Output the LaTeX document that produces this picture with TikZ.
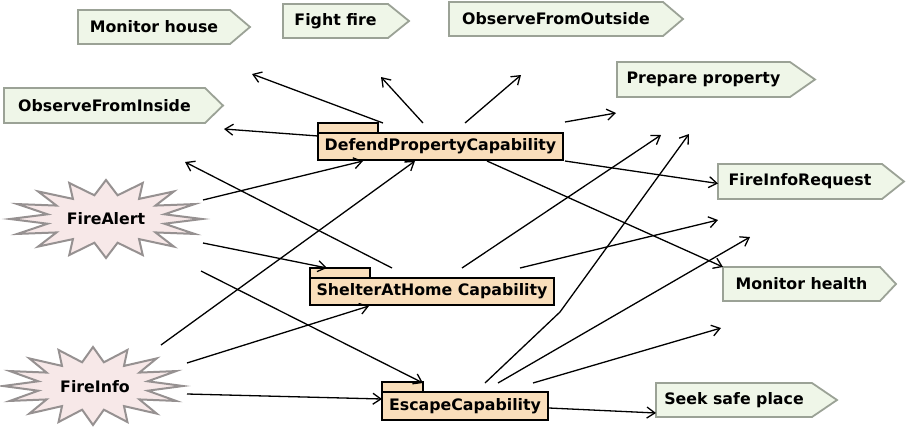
\documentclass[tikz,border=0pt]{standalone}
\usepackage{fontspec}
\setmainfont{DejaVu Sans}
\usetikzlibrary{arrows.meta}

\definecolor{sigfill}{RGB}{239,246,232}
\definecolor{sigline}{RGB}{155,162,150}
\definecolor{burstfill}{RGB}{247,232,232}
\definecolor{burstline}{RGB}{150,145,145}
\definecolor{pkgfill}{RGB}{249,222,187}

\tikzset{
  lbl/.style={font=\fontsize{15.8}{18}\selectfont\bfseries, inner sep=0pt, outer sep=0pt},
  sigbox/.style={fill=sigfill, draw=sigline, line width=1.8pt, line join=miter},
  pkg/.style={lbl, fill=pkgfill, draw=black, line width=2.8pt},
  pkgtab/.style={fill=pkgfill, draw=black, line width=2.8pt},
  burst/.style={fill=burstfill, draw=burstline, line width=2pt, line join=miter},
  dep/.style={line width=1.3pt, -{Straight Barb[length=8pt,width=11pt]}},
}

% signal: name, left, top, body right, tip, bottom, text
\newcommand\signalnode[7]{%
  \draw[sigbox] (#2,#3) -- (#4,#3) -- (#5,{(#3+#6)/2}) -- (#4,#6) -- (#2,#6) -- cycle;
  \node[lbl, minimum width={#4pt-#2pt}, minimum height={#6pt-#3pt}] (#1)
    at ({(#2+#4)/2},{(#3+#6)/2}) {#7};
}

% star burst outline: centre x, centre y, radius x, radius y
\newcommand\burstoutline[4]{%
  \draw[burst] ({#1+#3},#2)
    \foreach \k [evaluate=\k as \rr using {1-0.38*mod(\k,2)}] in {1,...,31}
      { -- ({#1+#3*\rr*cos(\k*11.25)},{#2+#4*\rr*sin(\k*11.25)}) } -- cycle;
}

% package: name, centre x, centre y, width, height, tab width, text
\newcommand\packagenode[7]{%
  \node[pkg, minimum width=#4pt, minimum height=#5pt] (#1) at (#2,#3) {#7};
  \draw[pkgtab] ([shift={(0,-10)}]#1.north west) rectangle ([shift={(#6,0)}]#1.north west);
}

\begin{document}
\begin{tikzpicture}[x=1pt,y=-1pt]
\useasboundingbox (0,0) rectangle (906,429);

% goals
\signalnode{mh}{78}{10}{230}{250}{44}{Monitor house}
\signalnode{ff}{283}{4}{388}{409}{38}{Fight fire}
\signalnode{ofo}{449}{2}{663}{683}{36}{ObserveFromOutside}
\signalnode{pp}{617}{62}{790}{815}{97}{Prepare property}
\signalnode{ofi}{4}{88}{205}{223}{123}{ObserveFromInside}
\signalnode{fir}{718}{164}{882}{904}{199}{FireInfoRequest}
\signalnode{mhe}{723}{267}{880}{896}{301}{Monitor health}
\signalnode{ssp}{656}{383}{812}{837}{417}{Seek safe place}

% percepts
\burstoutline{106}{219}{96}{39}
\node[lbl] (fa) at (106,219) {FireAlert};
\burstoutline{93}{386}{90}{39}
\node[lbl] (fi) at (95,387) {FireInfo};

% capabilities
\packagenode{def}{440.5}{146.5}{245}{27}{60}{DefendPropertyCapability}
\packagenode{sh}{432}{291.5}{244}{27}{60}{ShelterAtHome Capability}
\packagenode{esc}{465}{406}{166}{28}{41}{EscapeCapability}

% open ends of the links
\coordinate (e1) at (252,74);
\coordinate (e2) at (381,77);
\coordinate (e3) at (224,129);
\coordinate (e4) at (521,75);
\coordinate (e5) at (616,113);
\coordinate (e11) at (185,162);
\coordinate (e12) at (661,135);
\coordinate (e13) at (718,220);
\coordinate (b18) at (560,312);
\coordinate (e18) at (689,134);
\coordinate (e19) at (750,237);
\coordinate (e20) at (721,328);

% links of DefendPropertyCapability
\draw[dep] ([shift={(65,-10)}]def.north west) -- (e1);
\draw[dep] ([shift={(105,-10)}]def.north west) -- (e2);
\draw[dep] ([shift={(0,3)}]def.north west) -- (e3);
\draw[dep] ([shift={(147,-10)}]def.north west) -- (e4);
\draw[dep] ([shift={(2,-11)}]def.north east) -- (e5);
\draw[dep] ([shift={(2,1)}]def.south east) -- ([shift={(0,2)}]fir.west);
\draw[dep] ([shift={(169,1)}]def.south west) -- (mhe.north west);

% links of FireAlert
\draw[dep] ([shift={(97,-19)}]fa.center) -- ([shift={(45,1)}]def.south west);
\draw[dep] ([shift={(97,24)}]fa.center) -- ([shift={(17,-10)}]sh.north west);
\draw[dep] ([shift={(95,52)}]fa.center) -- ([shift={(41,-9)}]esc.north west);

% links of ShelterAtHome Capability
\draw[dep] ([shift={(82,-10)}]sh.north west) -- (e11);
\draw[dep] ([shift={(152,-10)}]sh.north west) -- (e12);
\draw[dep] ([shift={(210,-10)}]sh.north west) -- (e13);

% links of FireInfo
\draw[dep] ([shift={(66,-42)}]fi.center) -- ([shift={(97,1)}]def.south west);
\draw[dep] ([shift={(92,-24)}]fi.center) -- ([shift={(59,1)}]sh.south west);
\draw[dep] ([shift={(92,7)}]fi.center) -- ([shift={(0,-7)}]esc.west);

% links of EscapeCapability
\draw[dep] ([shift={(1,2)}]esc.east) -- ([shift={(0,13)}]ssp.west);
\draw[dep] ([shift={(103,-9)}]esc.north west) -- (b18) -- (e18);
\draw[dep] ([shift={(116,-9)}]esc.north west) -- (e19);
\draw[dep] ([shift={(151,-9)}]esc.north west) -- (e20);
\end{tikzpicture}
\end{document}
